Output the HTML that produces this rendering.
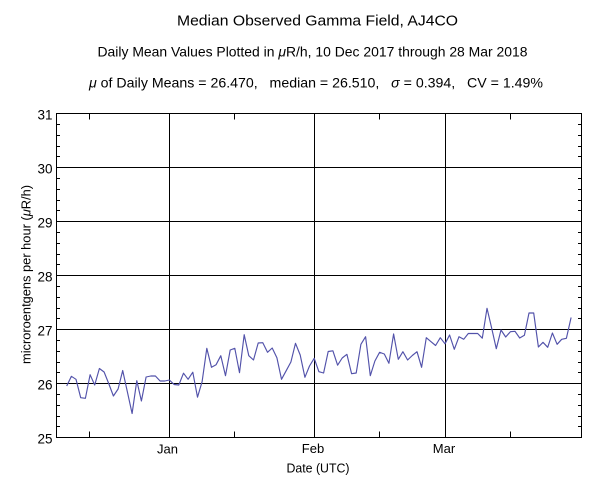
<!DOCTYPE html>
<html>
<head>
<meta charset="utf-8">
<style>
  html,body{margin:0;padding:0;background:#fff;}
  svg{display:block;}
  text{font-family:"Liberation Sans","DejaVu Sans",sans-serif;fill:#000;}
</style>
</head>
<body>
<svg width="600" height="496" viewBox="0 0 600 496" xmlns="http://www.w3.org/2000/svg">
  <rect x="0" y="0" width="600" height="496" fill="#fff"/>

  <!-- Titles -->
  <text x="177" y="25.5" font-size="14.5" textLength="281" lengthAdjust="spacingAndGlyphs">Median Observed Gamma Field, AJ4CO</text>
  <text x="97.5" y="56.5" font-size="14" textLength="430" lengthAdjust="spacingAndGlyphs" style="white-space:pre">Daily Mean Values Plotted in <tspan font-style="italic">μ</tspan>R/h, 10 Dec 2017 through 28 Mar 2018</text>
  <text x="89" y="87.3" font-size="14" textLength="454" lengthAdjust="spacingAndGlyphs" style="white-space:pre"><tspan font-style="italic">μ</tspan> of Daily Means = 26.470,   median = 26.510,   <tspan font-style="italic">σ</tspan> = 0.394,   CV = 1.49%</text>

  <!-- Grid & frame -->
  <g stroke="#000" stroke-width="1" shape-rendering="crispEdges" fill="none">
    <line x1="56.5" y1="167.5" x2="581.5" y2="167.5"/>
    <line x1="56.5" y1="221.5" x2="581.5" y2="221.5"/>
    <line x1="56.5" y1="275.5" x2="581.5" y2="275.5"/>
    <line x1="56.5" y1="329.5" x2="581.5" y2="329.5"/>
    <line x1="56.5" y1="383.5" x2="581.5" y2="383.5"/>
    <line x1="169.5" y1="113.5" x2="169.5" y2="437.5"/>
    <line x1="314.5" y1="113.5" x2="314.5" y2="437.5"/>
    <line x1="445.5" y1="113.5" x2="445.5" y2="437.5"/>
    <rect x="56.5" y="113.5" width="525" height="324"/>
    <!-- x minor ticks (top & bottom) -->
    <line x1="89.5" y1="113.5" x2="89.5" y2="119.5"/>
    <line x1="234.5" y1="113.5" x2="234.5" y2="119.5"/>
    <line x1="379.5" y1="113.5" x2="379.5" y2="119.5"/>
    <line x1="510.5" y1="113.5" x2="510.5" y2="119.5"/>
    <line x1="89.5" y1="431.5" x2="89.5" y2="437.5"/>
    <line x1="234.5" y1="431.5" x2="234.5" y2="437.5"/>
    <line x1="379.5" y1="431.5" x2="379.5" y2="437.5"/>
    <line x1="510.5" y1="431.5" x2="510.5" y2="437.5"/>
  </g>
  <!-- y minor ticks -->
  <g stroke="#000" stroke-width="1" shape-rendering="crispEdges">
    <path d="M57 124.5h3M57 135.5h3M57 146.5h3M57 156.5h3
             M57 178.5h3M57 189.5h3M57 200.5h3M57 210.5h3
             M57 232.5h3M57 243.5h3M57 254.5h3M57 264.5h3
             M57 286.5h3M57 297.5h3M57 308.5h3M57 318.5h3
             M57 340.5h3M57 351.5h3M57 362.5h3M57 372.5h3
             M57 394.5h3M57 405.5h3M57 416.5h3M57 426.5h3
             M578 124.5h3M578 135.5h3M578 146.5h3M578 156.5h3
             M578 178.5h3M578 189.5h3M578 200.5h3M578 210.5h3
             M578 232.5h3M578 243.5h3M578 254.5h3M578 264.5h3
             M578 286.5h3M578 297.5h3M578 308.5h3M578 318.5h3
             M578 340.5h3M578 351.5h3M578 362.5h3M578 372.5h3
             M578 394.5h3M578 405.5h3M578 416.5h3M578 426.5h3"/>
  </g>

  <!-- Y tick labels -->
  <g font-size="13.5" text-anchor="end">
    <text x="52.5" y="119.5">31</text>
    <text x="52.5" y="173.5">30</text>
    <text x="52.5" y="227.5">29</text>
    <text x="52.5" y="281.5">28</text>
    <text x="52.5" y="335.5">27</text>
    <text x="52.5" y="389.5">26</text>
    <text x="52.5" y="443.5">25</text>
  </g>

  <!-- X tick labels -->
  <g font-size="13" text-anchor="middle">
    <text x="167.5" y="453.3">Jan</text>
    <text x="313" y="453">Feb</text>
    <text x="444" y="453">Mar</text>
  </g>
  <text x="318" y="472.5" font-size="13" text-anchor="middle" textLength="63" lengthAdjust="spacingAndGlyphs">Date (UTC)</text>

  <!-- Y axis title -->
  <text transform="translate(30.5,274.5) rotate(-90)" x="0" y="0" font-size="13" text-anchor="middle" textLength="179" lengthAdjust="spacingAndGlyphs">microroentgens per hour (<tspan font-style="italic">μ</tspan>R/h)</text>

  <!-- Data series -->
  <polyline fill="none" stroke="#5252aa" stroke-width="1.15" stroke-linejoin="round"
    points="66.7,386 71.4,376.3 76.0,379.3 80.7,397.7 85.4,398.3 90.1,374.7 94.7,385 99.4,368.5 104.1,372 108.7,383.5 113.4,396 118.1,389 122.7,370.5 127.4,392 132.1,413.5 136.8,380.7 141.4,401 146.1,377 150.8,376 155.4,376 160.1,381 164.8,381 169.4,380 174.1,384.5 178.8,385 183.5,373.2 188.1,379.3 192.8,372.2 197.5,397.2 202.1,381.7 206.8,348.3 211.5,367.3 216.1,364.7 220.8,355.7 225.5,375.7 230.2,350 234.8,348.3 239.5,372.7 244.2,334.7 248.8,355.7 253.5,360 258.2,343 262.8,342.7 267.5,352.3 272.2,348 276.9,357.7 281.5,379.3 286.2,370.7 290.9,362 295.5,343.3 300.2,355 304.9,377.3 309.5,366 314.2,358.3 318.9,371.7 323.6,373 328.2,351.5 332.9,350.8 337.6,365.2 342.2,358 346.9,354.3 351.6,373.7 356.2,373 360.9,344.3 365.6,336.7 370.3,375.7 374.9,361 379.6,352.3 384.3,354 388.9,363.3 393.6,334 398.3,359.3 402.9,351.7 407.6,360 412.3,355.5 417.0,351.7 421.6,367.3 426.3,337.7 431.0,341.7 435.6,345.5 440.3,337.7 445.0,343.8 449.6,335 454.3,349.3 459.0,336.7 463.7,339.3 468.3,333.5 473.0,333.5 477.7,333.5 482.3,338.2 487.0,308.3 491.7,328.3 496.3,348.7 501.0,330 505.7,337 510.4,331.7 515.0,331.3 519.7,338 524.4,335.3 529.0,313 533.7,313 538.4,347 543.0,342.3 547.7,347.3 552.4,333 557.1,344.3 561.7,339.3 566.4,338.3 571.1,317.5"/>
</svg>
</body>
</html>
